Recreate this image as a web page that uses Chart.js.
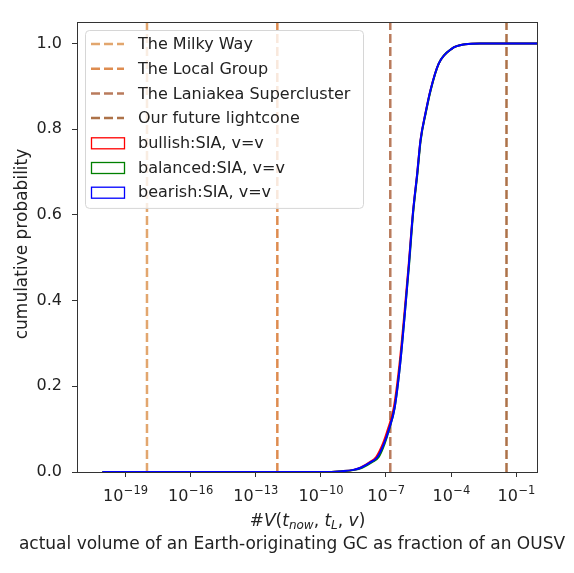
<!DOCTYPE html>
<html>
<head>
<meta charset="utf-8">
<script src="https://cdn.jsdelivr.net/npm/chart.js@4"></script>
<style>
  body { margin: 0; background: #fff; }
  canvas { display: block; }
</style>
</head>
<body>
<canvas id="cdfChart" width="574" height="573"></canvas>
<script>
// tick positions (powers of ten) and y ticks
const xTickExps = [-19, -16, -13, -10, -7, -4, -1];
const yTicks = [0, 0.2, 0.4, 0.6, 0.8, 1.0];

// reference volumes (vertical dashed lines), as powers of ten
const refLabels = ["The Milky Way", "The Local Group", "The Laniakea Supercluster", "Our future lightcone"];
const refExps = [-18, -12, -6.8, -1.45];
const refColors = ["#e2a66e", "#de8c50", "#b97b5c", "#ad7248"];

// cumulative probability
const cdfProb = [0, 0, 0.002, 0.005, 0.01, 0.023, 0.035, 0.066, 0.10, 0.15, 0.25, 0.37, 0.486, 0.603, 0.697, 0.774, 0.837, 0.891, 0.953, 0.988, 0.998, 1.0, 1.0];
const bullishExp = [-20.05, -10, -9, -8.5, -8.18, -7.74, -7.45, -7.14, -6.91, -6.64, -6.38, -6.15, -5.95, -5.76, -5.56, -5.41, -5.18, -4.95, -4.57, -3.96, -3.35, -2.66, 0];
const balancedExp = [-20.05, -10, -9, -8.45, -8.1, -7.64, -7.33, -7.06, -6.85, -6.6, -6.35, -6.13, -5.93, -5.75, -5.55, -5.4, -5.17, -4.94, -4.57, -3.96, -3.35, -2.66, 0];
const bearishExp = [-20.05, -10, -9, -8.5, -8.16, -7.70, -7.39, -7.09, -6.86, -6.6, -6.35, -6.13, -5.94, -5.76, -5.56, -5.41, -5.18, -4.95, -4.57, -3.96, -3.35, -2.66, 0];
const seriesLabels = ["bullish:SIA, v=v", "balanced:SIA, v=v", "bearish:SIA, v=v"];
const seriesColors = ["#ff0000", "#008000", "#0000ff"];

const FONT = "DejaVu Sans";
const TEXT = "#222222";

function curve(exps) {
  return exps.map((e, i) => ({ x: Math.pow(10, e), y: cdfProb[i] }));
}

const datasets = [];
refExps.forEach((e, i) => {
  datasets.push({
    label: refLabels[i],
    kind: "vline",
    data: [{ x: Math.pow(10, e), y: 0 }, { x: Math.pow(10, e), y: 1.05 }],
    borderColor: refColors[i],
    borderWidth: 2.5,
    borderDash: [9, 4],
    pointRadius: 0,
    order: 10,
  });
});
[bullishExp, balancedExp, bearishExp].forEach((exps, i) => {
  datasets.push({
    label: seriesLabels[i],
    kind: "hist",
    data: curve(exps),
    borderColor: seriesColors[i],
    borderWidth: 2,
    pointRadius: 0,
    cubicInterpolationMode: "monotone",
    order: 3 - i,
  });
});

// frame, tick labels, axis labels and the in-axes legend
const decorations = {
  id: "decorations",
  afterDraw(chart) {
    const ctx = chart.ctx;
    const a = chart.chartArea;
    ctx.save();
    ctx.strokeStyle = "#333";
    ctx.lineWidth = 1;
    ctx.strokeRect(a.left + 0.5, a.top + 0.5, a.right - a.left - 1, a.bottom - a.top);

    // x tick labels as 10 with raised exponent
    const xs = chart.scales.x;
    ctx.fillStyle = TEXT;
    ctx.textBaseline = "alphabetic";
    ctx.textAlign = "left";
    xTickExps.forEach(e => {
      const px = xs.getPixelForValue(Math.pow(10, e));
      const exp = "\u2212" + String(-e);
      ctx.font = "16px '" + FONT + "'";
      const w1 = ctx.measureText("10").width;
      ctx.font = "11.5px '" + FONT + "'";
      const w2 = ctx.measureText(exp).width;
      const x0 = px - (w1 + w2) / 2;
      ctx.font = "16px '" + FONT + "'";
      ctx.fillText("10", x0, a.bottom + 29);
      ctx.font = "11.5px '" + FONT + "'";
      ctx.fillText(exp, x0 + w1 + 0.5, a.bottom + 22);
    });

    // legend box
    const lx = a.left + 8, ly = a.top + 8, lw = 278, rowH = 24.7;
    const lh = rowH * chart.data.datasets.length + 5;
    ctx.fillStyle = "rgba(255,255,255,0.8)";
    ctx.strokeStyle = "#d6d6d6";
    ctx.lineWidth = 1;
    ctx.beginPath();
    ctx.roundRect(lx + 0.5, ly + 0.5, lw, lh, 4);
    ctx.fill();
    ctx.stroke();
    ctx.font = "16px '" + FONT + "'";
    ctx.textBaseline = "middle";
    chart.data.datasets.forEach((ds, i) => {
      const cy = ly + 14 + i * rowH;
      const hx = lx + 6;
      if (ds.kind === "vline") {
        ctx.strokeStyle = ds.borderColor;
        ctx.lineWidth = 2.5;
        ctx.setLineDash([9, 4]);
        ctx.beginPath();
        ctx.moveTo(hx, cy);
        ctx.lineTo(hx + 33, cy);
        ctx.stroke();
        ctx.setLineDash([]);
      } else {
        ctx.strokeStyle = ds.borderColor;
        ctx.lineWidth = 1.3;
        ctx.strokeRect(hx + 0.5, cy - 5, 33, 11);
      }
      ctx.fillStyle = TEXT;
      ctx.textAlign = "left";
      ctx.fillText(ds.label, lx + 53, cy + 1);
    });

    // y label
    ctx.save();
    ctx.font = "17px '" + FONT + "'";
    ctx.translate(23, (a.top + a.bottom) / 2 - 3);
    ctx.rotate(-Math.PI / 2);
    ctx.textAlign = "center";
    ctx.fillStyle = TEXT;
    ctx.fillText("cumulative probability", 0, 0);
    ctx.restore();

    // x label, first line in math style
    const parts = [
      ["#", "", 17], ["V", "italic ", 17], ["(", "", 17], ["t", "italic ", 17], ["now", "italic ", 12, 3],
      [", ", "", 17], ["t", "italic ", 17], ["L", "italic ", 12, 3], [", ", "", 17], ["v", "italic ", 17], [")", "", 17],
    ];
    let total = 0;
    parts.forEach(p => { ctx.font = p[1] + p[2] + "px '" + FONT + "'"; total += ctx.measureText(p[0]).width; });
    let x = (a.left + a.right) / 2 - total / 2;
    const y1 = a.bottom + 54;
    ctx.textAlign = "left";
    ctx.textBaseline = "alphabetic";
    ctx.fillStyle = TEXT;
    parts.forEach(p => {
      ctx.font = p[1] + p[2] + "px '" + FONT + "'";
      ctx.fillText(p[0], x, y1 + (p[3] || 0));
      x += ctx.measureText(p[0]).width;
    });
    ctx.font = "17px '" + FONT + "'";
    ctx.textAlign = "center";
    ctx.fillText("actual volume of an Earth-originating GC as fraction of an OUSV", 292, y1 + 23);
    ctx.restore();
  }
};

const config = {
  type: "line",
  data: { datasets: datasets },
  options: {
    responsive: false,
    animation: false,
    devicePixelRatio: 1,
    layout: { padding: { top: 22, right: 36, left: 0, bottom: 0 } },
    plugins: { legend: { display: false }, tooltip: { enabled: false } },
    scales: {
      x: {
        type: "logarithmic",
        min: Math.pow(10, -21.2),
        max: 1,
        afterBuildTicks: s => { s.ticks = xTickExps.map(e => ({ value: Math.pow(10, e) })); },
        afterFit: s => { s.height = 101; },
        ticks: { display: false, autoSkip: false, maxRotation: 0 },
        grid: { display: true, drawOnChartArea: false, drawTicks: true, tickLength: 5, color: "#333" },
        border: { display: false },
      },
      y: {
        min: 0,
        max: 1.05,
        afterBuildTicks: s => { s.ticks = yTicks.map(v => ({ value: v })); },
        afterFit: s => { s.width = 77; },
        ticks: {
          padding: 10,
          color: TEXT,
          font: { family: FONT, size: 16 },
          callback: v => v.toFixed(1),
        },
        grid: { display: true, drawOnChartArea: false, drawTicks: true, tickLength: 5, color: "#333" },
        border: { display: false },
      },
    },
  },
  plugins: [decorations],
};

const cdfChart = new Chart(document.getElementById("cdfChart"), config);
</script>
</body>
</html>
